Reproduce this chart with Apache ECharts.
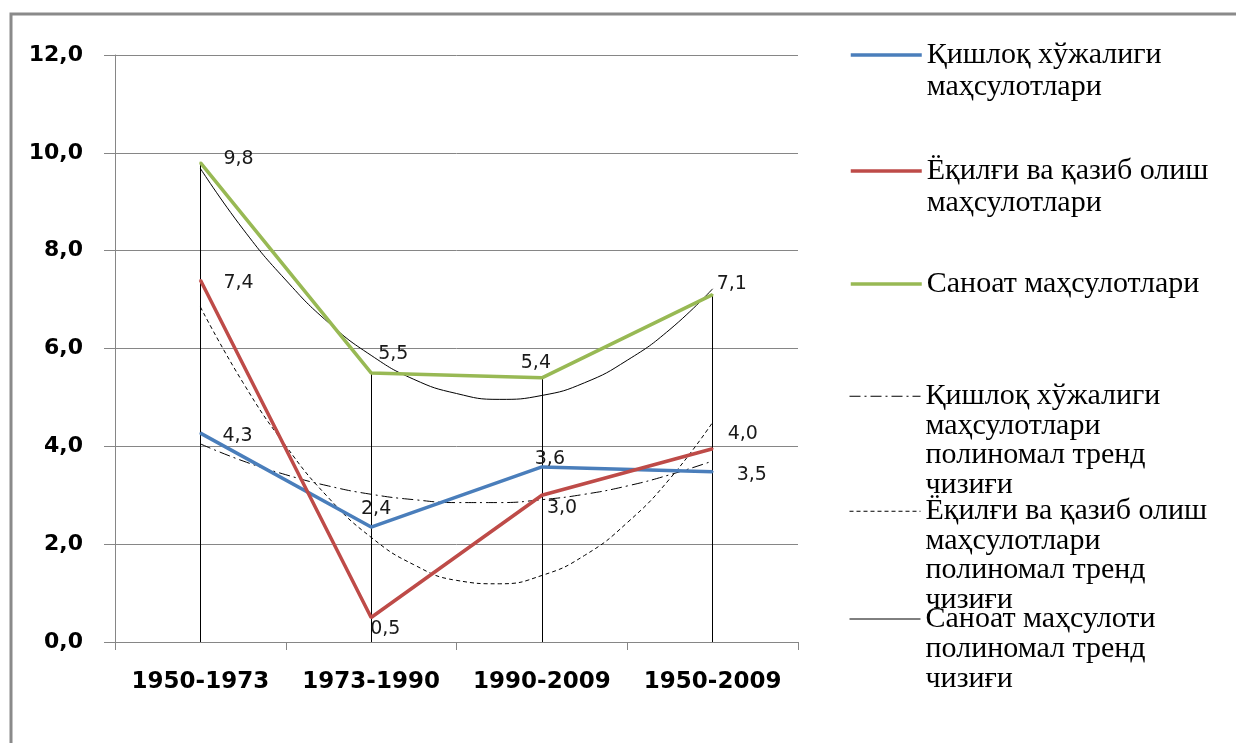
<!DOCTYPE html>
<html>
<head>
<meta charset="utf-8">
<script src="https://cdn.jsdelivr.net/npm/echarts@6/dist/echarts.min.js"></script>
<style>
  html, body { margin: 0; padding: 0; background: #fff; }
  #chart { width: 1236px; height: 743px; }
</style>
</head>
<body>
<div id="chart"></div>
<script>
// categories and values
var periods = ['1950-1973', '1973-1990', '1990-2009', '1950-2009'];
var agriculture = [4.27, 2.35, 3.58, 3.48];
var fuel = [7.4, 0.5, 3.0, 3.95];
var industry = [9.8, 5.5, 5.4, 7.1];

// polynomial trend curves, read at quarter steps (x in category units, 0.5 = first centre)
var trendPos = [0.5, 0.75, 1.0, 1.25, 1.5, 1.75, 2.0, 2.25, 2.5, 2.75, 3.0, 3.25, 3.5];
var agricultureTrend = [4.05, 3.70, 3.42, 3.19, 3.02, 2.91, 2.85, 2.85, 2.91, 3.02, 3.19, 3.42, 3.70];
var fuelTrend = [6.85, 5.30, 4.01, 2.95, 2.14, 1.58, 1.26, 1.19, 1.36, 1.77, 2.44, 3.34, 4.49];
var industryTrend = [9.68, 8.44, 7.40, 6.53, 5.86, 5.37, 5.08, 4.96, 5.04, 5.30, 5.76, 6.39, 7.22];

var seriesNames = [
  'Қишлоқ хўжалиги маҳсулотлари',
  'Ёқилғи ва қазиб олиш маҳсулотлари',
  'Саноат маҳсулотлари',
  'Қишлоқ хўжалиги маҳсулотлари полиномал тренд чизиғи',
  'Ёқилғи ва қазиб олиш маҳсулотлари полиномал тренд чизиғи',
  'Саноат маҳсулоти полиномал тренд чизиғи'
];
var legendText = [
  'Қишлоқ хўжалиги\nмаҳсулотлари',
  'Ёқилғи ва қазиб олиш\nмаҳсулотлари',
  'Саноат маҳсулотлари',
  'Қишлоқ хўжалиги\nмаҳсулотлари\nполиномал тренд\nчизиғи',
  'Ёқилғи ва қазиб олиш\nмаҳсулотлари\nполиномал тренд\nчизиғи',
  'Саноат маҳсулоти\nполиномал тренд\nчизиғи'
];

// legend placement (icon centre y) and line heights
var legendIconY = [55, 171, 284, 396, 511, 619];
var legendLineH = [32, 32, 32, 29.5, 29.5, 30];

// where each data label sits
var agriLabels = [
  {position: 'right', distance: 21, offset: [0, 3]},
  {position: 'top', distance: 7, offset: [5, 0]},
  {position: 'top', distance: -3, offset: [8, 0]},
  {position: 'right', distance: 23, offset: [0, 3]}
];
var fuelLabels = [
  {position: 'right', distance: 22, offset: [0, 3]},
  {position: 'right', distance: -2, offset: [0, 12]},
  {position: 'right', distance: 4, offset: [0, 13]},
  {position: 'right', distance: 14, offset: [0, -15]}
];
var industryLabels = [
  {position: 'right', distance: 22, offset: [0, -4]},
  {position: 'right', distance: 6, offset: [0, -19]},
  {position: 'top', distance: 4, offset: [-6, 0]},
  {position: 'right', distance: 3, offset: [0, -11]}
];

function comma(v) {
  return v.toFixed(1).replace('.', ',');
}

function mainLine(name, values, color, labels) {
  return {
    name: name,
    type: 'line',
    data: values.map(function (v, i) { return {value: v, label: labels[i]}; }),
    symbol: 'circle',
    symbolSize: 2,
    itemStyle: {color: color},
    lineStyle: {color: color, width: 3.5},
    z: 5,
    label: {
      show: true,
      formatter: function (p) { return comma(p.value); },
      fontFamily: 'DejaVu Sans',
      fontSize: 19,
      color: '#1a1a1a'
    }
  };
}

function trendLine(name, values, dash) {
  return {
    name: name,
    type: 'line',
    xAxisIndex: 1,
    data: trendPos.map(function (x, i) { return [x, values[i]]; }),
    smooth: true,
    symbol: 'none',
    lineStyle: {color: '#000', width: 1, type: dash},
    z: 4
  };
}

var chart = echarts.init(document.getElementById('chart'));

var option = {
  animation: false,
  backgroundColor: '#fff',
  graphic: [{
    type: 'rect',
    shape: {x: 11, y: 14, width: 1300, height: 800},
    style: {fill: 'none', stroke: '#8a8a8a', lineWidth: 3},
    silent: true
  }],
  legend: seriesNames.map(function (name, i) {
    var n = legendText[i].split('\n').length;
    var lh = legendLineH[i];
    // blank lines in front keep the icon level with the first text line
    var text = new Array(n).join('\n') + legendText[i];
    return {
      data: [name],
      left: 849,
      top: legendIconY[i] - (2 * n - 1) * lh / 2,
      padding: 0,
      itemWidth: 71,
      itemHeight: 14,
      selectedMode: false,
      formatter: function () { return text; },
      itemStyle: {opacity: 0},
      lineStyle: {width: i < 3 ? 3.5 : 1},
      textStyle: {
        fontFamily: 'Liberation Serif',
        fontSize: 30,
        lineHeight: lh,
        color: '#000'
      }
    };
  }),
  grid: {left: 115, right: 438, top: 55, bottom: 101, outerBoundsMode: 'none'},
  xAxis: [{
    type: 'category',
    data: periods,
    boundaryGap: true,
    axisLine: {lineStyle: {color: '#868686', width: 1}},
    axisTick: {show: true, interval: 0, length: 8, lineStyle: {color: '#868686'}},
    axisLabel: {interval: 0, fontFamily: 'DejaVu Sans', fontWeight: 'bold', fontSize: 23, color: '#000', margin: 29}
  }, {
    type: 'value',
    min: 0,
    max: 4,
    show: false
  }],
  yAxis: {
    type: 'value',
    min: 0,
    max: 12,
    interval: 2,
    axisLine: {show: true, lineStyle: {color: '#868686', width: 1}},
    axisTick: {show: true, length: 11, lineStyle: {color: '#868686'}},
    splitLine: {lineStyle: {color: '#868686', width: 1}},
    axisLabel: {
      formatter: comma,
      fontFamily: 'DejaVu Sans',
      fontWeight: 'bold',
      fontSize: 22,
      color: '#000',
      margin: 32
    }
  },
  series: [
    {
      name: 'drop',
      type: 'line',
      data: industry,
      symbol: 'none',
      lineStyle: {opacity: 0},
      silent: true,
      z: 1,
      markLine: {
        silent: true,
        symbol: 'none',
        label: {show: false},
        lineStyle: {color: '#000', width: 1, type: 'solid'},
        data: periods.map(function (p, i) {
          return [{coord: [p, 0]}, {coord: [p, industry[i]]}];
        })
      }
    },
    mainLine(seriesNames[0], agriculture, '#4a7ebb', agriLabels),
    mainLine(seriesNames[1], fuel, '#be4b48', fuelLabels),
    mainLine(seriesNames[2], industry, '#98b954', industryLabels),
    trendLine(seriesNames[3], agricultureTrend, [11, 4, 2, 4]),
    trendLine(seriesNames[4], fuelTrend, [4, 3]),
    trendLine(seriesNames[5], industryTrend, 'solid')
  ]
};

chart.setOption(option);
</script>
</body>
</html>
